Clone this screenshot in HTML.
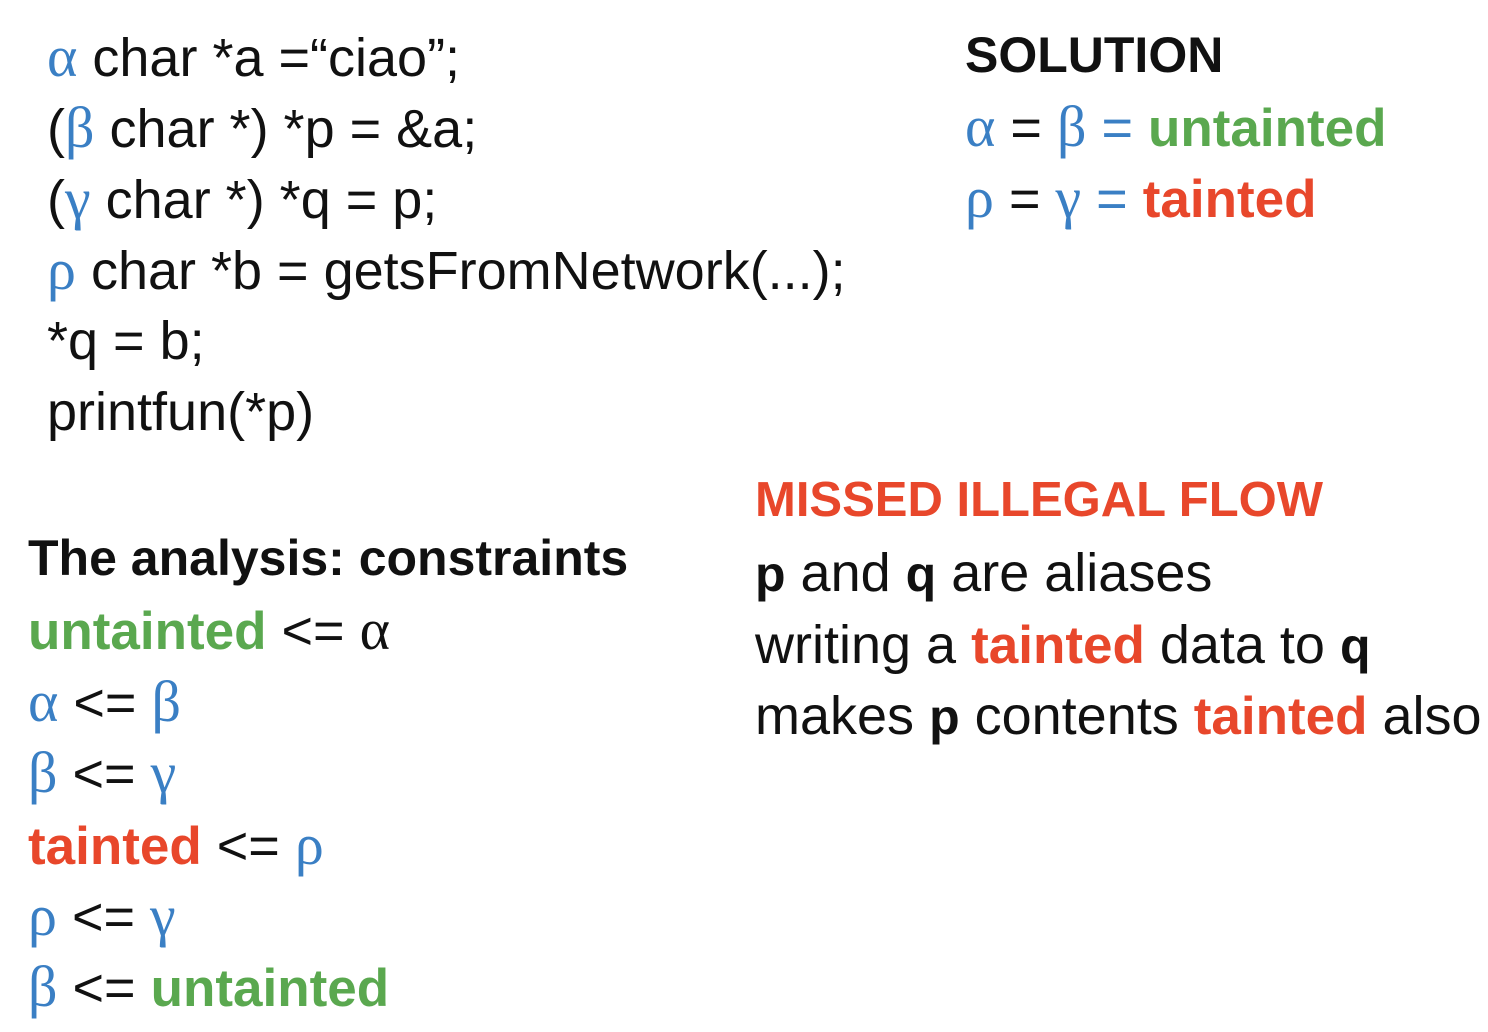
<!DOCTYPE html>
<html><head><meta charset="utf-8"><style>
html,body{margin:0;padding:0;background:#fff;}
body{width:1488px;height:1032px;position:relative;overflow:hidden;font-family:"Liberation Sans",sans-serif;color:#111;}
.l{position:absolute;font-size:54px;line-height:60px;white-space:nowrap;letter-spacing:0px;}
.g{font-family:"Liberation Serif",serif;color:#3a7fc4;font-size:58px;}
.b{color:#3a7fc4;}
.gr{color:#5aa84f;font-weight:bold;font-size:53px;}
.r{color:#e8472b;font-weight:bold;font-size:53px;}
.k{font-weight:bold;font-size:50px;}
</style></head><body>
<div class="l" style="left:47px;top:27px"><span class="g">α</span> char *a =“ciao”;</div>
<div class="l" style="left:47px;top:98px">(<span class="g">β</span> char *) *p = &amp;a;</div>
<div class="l" style="left:47px;top:169px">(<span class="g">γ</span> char *) *q = p;</div>
<div class="l" style="left:47px;top:240px"><span class="g">ρ</span> char *b = getsFromNetwork(...);</div>
<div class="l" style="left:47px;top:311px">*q = b;</div>
<div class="l" style="left:47px;top:382px">printfun(*p)</div>

<div class="l k" style="left:965px;top:25px">SOLUTION</div>
<div class="l" style="left:965px;top:97px"><span class="g">α</span> = <span class="g">β</span> <span class="b">=</span> <span class="gr">untainted</span></div>
<div class="l" style="left:965px;top:168px"><span class="g">ρ</span> = <span class="g">γ</span> <span class="b">=</span> <span class="r">tainted</span></div>

<div class="l k" style="left:28px;top:528px">The analysis: constraints</div>
<div class="l" style="left:28px;top:600px"><span class="gr">untainted</span> &lt;= <span class="g" style="color:#111">α</span></div>
<div class="l" style="left:28px;top:672px"><span class="g">α</span> &lt;= <span class="g">β</span></div>
<div class="l" style="left:28px;top:743px"><span class="g">β</span> &lt;= <span class="g">γ</span></div>
<div class="l" style="left:28px;top:815px"><span class="r">tainted</span> &lt;= <span class="g">ρ</span></div>
<div class="l" style="left:28px;top:886px"><span class="g">ρ</span> &lt;= <span class="g">γ</span></div>
<div class="l" style="left:28px;top:957px"><span class="g">β</span> &lt;= <span class="gr">untainted</span></div>

<div class="l r" style="left:755px;top:470px;font-size:49px">MISSED ILLEGAL FLOW</div>
<div class="l" style="left:755px;top:543px"><span class="k">p</span> and <span class="k">q</span> are aliases</div>
<div class="l" style="left:755px;top:615px">writing a <span class="r">tainted</span> data to <span class="k">q</span></div>
<div class="l" style="left:755px;top:686px">makes <span class="k">p</span> contents <span class="r">tainted</span> also</div>
</body></html>
